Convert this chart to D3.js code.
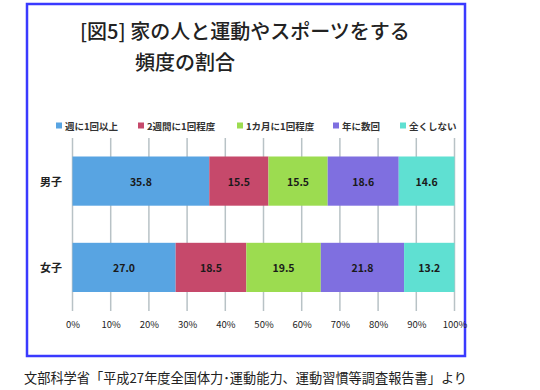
<!DOCTYPE html>
<html><head><meta charset="utf-8">
<script src="https://cdn.jsdelivr.net/npm/d3@7"></script>
<style>body{margin:0;background:#fff}svg{display:block}</style>
</head><body><svg id="c" width="540" height="390"></svg>
<script>
const categories = ["男子", "女子"];
const seriesNames = ["週に1回以上", "2週間に1回程度", "1カ月に1回程度", "年に数回", "全くしない"];
const boys = [35.8, 15.5, 15.5, 18.6, 14.6];
const girls = [27.0, 18.5, 19.5, 21.8, 13.2];
const tickValues = [0, 10, 20, 30, 40, 50, 60, 70, 80, 90, 100];
const colors = ["#58a4e2", "#c6496b", "#9cdc50", "#7f6fe0", "#5fe0d2"];
const titleLines = ["[図5] 家の人と運動やスポーツをする", "頻度の割合"];
const sourceText = "文部科学省「平成27年度全国体力･運動能力、運動習慣等調査報告書」より";

const svg = d3.select("#c");
const font = "'Noto Sans CJK JP', 'Noto Sans', sans-serif";

// frame
svg.append("rect").attr("x", 27).attr("y", 4).attr("width", 438).attr("height", 352)
  .attr("fill", "none").attr("stroke", "#3a3aff").attr("stroke-width", 2.5);

// title
svg.append("text").attr("x", 80).attr("y", 39).attr("font-family", font).attr("font-size", 20)
  .attr("font-weight", 500).attr("fill", "#222").text(titleLines[0]);
svg.append("text").attr("x", 135).attr("y", 70).attr("font-family", font).attr("font-size", 20)
  .attr("font-weight", 500).attr("fill", "#222").text(titleLines[1]);

const x = d3.scaleLinear().domain([0, 100]).range([72.5, 454.5]);
const y = d3.scaleBand().domain(categories).range([156.5, 292]).paddingInner(0.43).paddingOuter(0);

// gridlines
svg.append("g").selectAll("line").data(tickValues).join("line")
  .attr("x1", d => x(d)).attr("x2", d => x(d)).attr("y1", 138).attr("y2", 311)
  .attr("stroke", "#b8c2c6").attr("stroke-width", 1.5);

// axis labels
const axis = d3.axisBottom(x).tickValues(tickValues).tickSize(0).tickFormat(d => d + "%");
const ag = svg.append("g").attr("transform", "translate(0,318)").call(axis);
ag.select(".domain").remove();
ag.selectAll("text").attr("font-family", font).attr("font-size", 9.5).attr("fill", "#222");

// bars
const data = [boys, girls];
const stack = data.map((vals, i) => {
  let acc = 0;
  return vals.map((v, j) => { const s = acc; acc += v; return {cat: categories[i], j, v, s, e: acc}; });
});
const bg = svg.append("g");
stack.forEach(row => {
  bg.selectAll(null).data(row).join("rect")
    .attr("x", d => x(d.s)).attr("width", d => x(d.e) - x(d.s))
    .attr("y", d => y(d.cat)).attr("height", y.bandwidth())
    .attr("fill", d => colors[d.j]);
  bg.selectAll(null).data(row).join("text")
    .attr("x", d => (x(d.s) + x(d.e)) / 2).attr("y", d => y(d.cat) + y.bandwidth() / 2)
    .attr("text-anchor", "middle").attr("dominant-baseline", "central")
    .attr("font-family", font).attr("font-size", 10.5).attr("font-weight", "bold")
    .attr("fill", "#1a1a1a").text(d => d.v.toFixed(1));
});

// category labels
svg.append("g").selectAll("text").data(categories).join("text")
  .attr("x", 51).attr("y", d => y(d) + y.bandwidth() / 2)
  .attr("text-anchor", "middle").attr("dominant-baseline", "central")
  .attr("font-family", font).attr("font-size", 11).attr("font-weight", "bold").attr("fill", "#222")
  .text(d => d);

// legend
const legX = [56, 138, 237, 333, 400];
const lg = svg.append("g");
seriesNames.forEach((n, i) => {
  lg.append("rect").attr("x", legX[i]).attr("y", 122.5).attr("width", 6).attr("height", 6).attr("fill", colors[i]);
  lg.append("text").attr("x", legX[i] + 9).attr("y", 126).attr("dominant-baseline", "central")
    .attr("font-family", font).attr("font-size", 9.5).attr("font-weight", "bold").attr("fill", "#333").text(n);
});

// source
svg.append("text").attr("x", 24).attr("y", 383).attr("font-family", font).attr("font-size", 13.5)
  .attr("fill", "#222").attr("textLength", 443).attr("lengthAdjust", "spacingAndGlyphs").text(sourceText);
</script></body></html>
